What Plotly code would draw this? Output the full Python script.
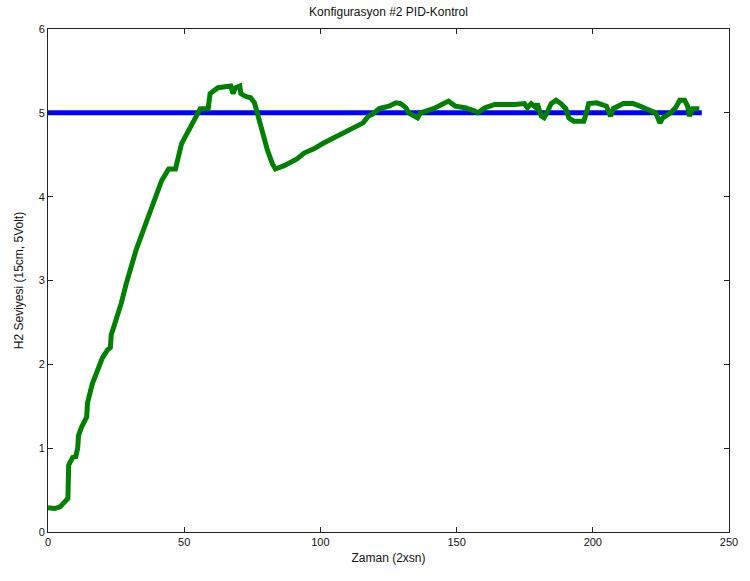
import plotly.graph_objects as go

# Measured tank level H2 under PID control (time in 2-second steps, level in volts)
zaman = [0, 2.5, 4.4, 5.1, 6.5, 7.3, 7.6, 9.1, 10.2, 10.9, 11.2, 12.3, 14.2, 14.5,
         16.3, 18.1, 20, 21.8, 22.9, 23.2, 25, 26.9, 28.7, 30.5, 32.3, 35.9, 39.6,
         41.7, 44.3, 46.8, 49, 51.5, 54.1, 55.9, 58.8, 59.5, 62.4, 67.1, 67.9, 68.9,
         70.4, 70.8, 72.2, 74.4, 75.8, 76.9, 78.7, 80.6, 82.4, 83.5, 86.7, 88.9, 91.4,
         94, 97.6, 101.2, 104.9, 108.5, 112.1, 115.7, 117.6, 119.4, 121.6, 125.2,
         127.7, 129.5, 131.4, 132.4, 135.7, 136.8, 141.5, 144.8, 147, 149.5, 153.1,
         156.7, 157.8, 160.4, 164, 171.3, 174.9, 176, 177.4, 179.2, 179.6, 181.1,
         182.1, 183.2, 184.7, 186.5, 188.3, 190.1, 191.2, 193, 196.7, 197.8, 198.5,
         201.4, 205, 206.5, 207.5, 211.2, 214.8, 217.3, 219.5, 221.3, 223.1, 224.6,
         225.7, 228.6, 230.4, 231.9, 233.7, 234.8, 235.5, 236.6, 239.1]
seviye = [0.29, 0.28, 0.30, 0.33, 0.38, 0.40, 0.80, 0.89, 0.90, 1.00, 1.15, 1.25, 1.37,
          1.54, 1.77, 1.93, 2.08, 2.17, 2.20, 2.35, 2.52, 2.73, 2.96, 3.15, 3.36, 3.68,
          3.99, 4.19, 4.33, 4.33, 4.63, 4.79, 4.94, 5.05, 5.05, 5.23, 5.30, 5.32, 5.23,
          5.30, 5.32, 5.23, 5.20, 5.18, 5.12, 4.99, 4.75, 4.55, 4.39, 4.33, 4.37, 4.40,
          4.45, 4.52, 4.57, 4.64, 4.70, 4.76, 4.82, 4.88, 4.96, 4.99, 5.05, 5.08, 5.12,
          5.11, 5.06, 5.00, 4.94, 5.00, 5.05, 5.11, 5.14, 5.08, 5.06, 5.02, 5.00, 5.06,
          5.10, 5.10, 5.11, 5.06, 5.11, 5.06, 5.11, 4.96, 4.94, 5.00, 5.11, 5.15, 5.11,
          5.05, 4.94, 4.90, 4.90, 5.02, 5.11, 5.12, 5.08, 4.96, 5.05, 5.11, 5.11, 5.08,
          5.05, 5.02, 5.00, 4.88, 4.94, 5.00, 5.06, 5.15, 5.15, 5.08, 4.96, 5.05, 5.05]

# Setpoint (reference) level
ref_zaman = [0, 240]
ref_seviye = [5, 5]

x_ticks = [0, 50, 100, 150, 200, 250]
y_ticks = [0, 1, 2, 3, 4, 5, 6]

fig = go.Figure()
fig.add_trace(go.Scatter(x=ref_zaman, y=ref_seviye, mode="lines",
                         line=dict(color="rgb(0,0,255)", width=5), showlegend=False))
fig.add_trace(go.Scatter(x=zaman, y=seviye, mode="lines",
                         line=dict(color="rgb(0,128,0)", width=5),
                         showlegend=False))

font_family = "Liberation Sans, Arial, sans-serif"
axis_common = dict(showgrid=False, zeroline=False, showline=True, linecolor="#222",
                   linewidth=1, mirror="ticks", ticks="inside", ticklen=5,
                   tickcolor="#222", tickfont=dict(size=11, color="#111", family=font_family))

fig.update_layout(
    width=750, height=581,
    margin=dict(l=48, r=13, t=29, b=49),
    paper_bgcolor="white", plot_bgcolor="white",
    title=dict(text="Konfigurasyon #2 PID-Kontrol", x=0.5, xref="paper",
               y=1 - 12 / 581, yanchor="middle",
               font=dict(size=12, color="#111", family=font_family)),
    xaxis=dict(range=[0, 250], tickvals=x_ticks,
               title=dict(text="Zaman (2xsn)", standoff=6,
                          font=dict(size=12, color="#111", family=font_family)),
               **axis_common),
    yaxis=dict(range=[0, 6], tickvals=y_ticks,
               title=dict(text="H2 Seviyesi (15cm, 5Volt)", standoff=12,
                          font=dict(size=12, color="#111", family=font_family)),
               **axis_common),
)

fig.write_html("out.html")
